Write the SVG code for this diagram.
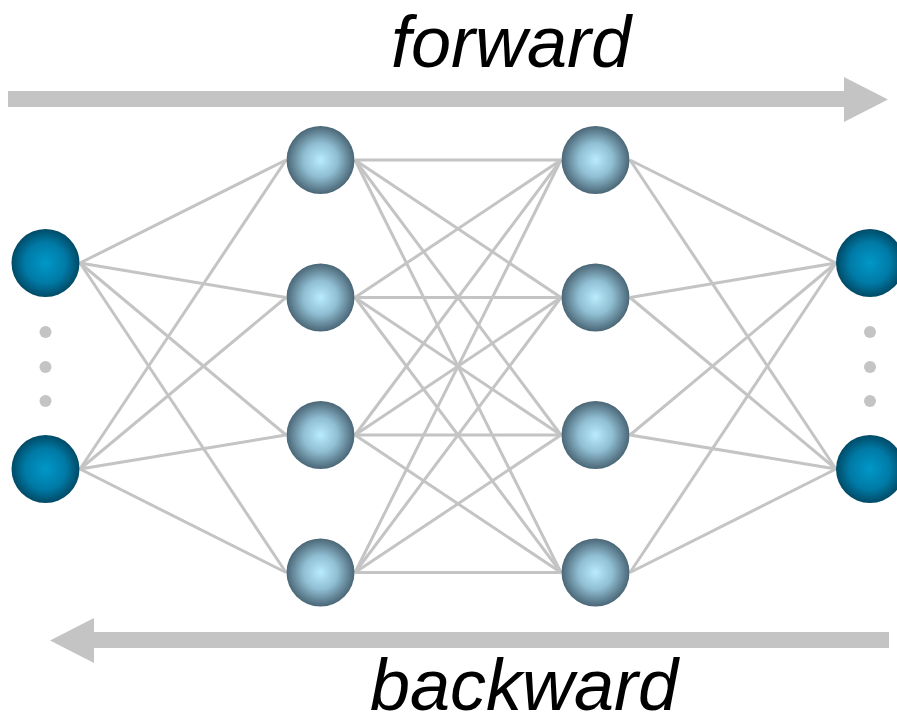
<svg xmlns="http://www.w3.org/2000/svg" width="897" height="721" viewBox="0 0 897 721">
<defs>
<radialGradient id="gIO" cx="50%" cy="50%" r="50%">
<stop offset="0" stop-color="#0098c8"/>
<stop offset="0.6" stop-color="#007aa6"/>
<stop offset="1" stop-color="#004a66"/>
</radialGradient>
<radialGradient id="gH" cx="50%" cy="50%" r="50%">
<stop offset="0" stop-color="#b8ecfc"/>
<stop offset="0.5" stop-color="#90bed2"/>
<stop offset="1" stop-color="#4a6676"/>
</radialGradient>
</defs>
<style>
.io{fill:url(#gIO)}
.h{fill:url(#gH)}
.e{stroke:#c4c4c4;stroke-width:3;fill:none}
.dot{fill:#c4c4c4}
.arr{fill:#c4c4c4}
.lbl{font-family:"Liberation Sans",Arial,sans-serif;font-style:italic;font-size:72px;fill:#000;text-anchor:middle}
</style>
<rect width="897" height="721" fill="#fff"/>
<g id="arrows">
<path class="arr" d="M8,91 H844 V77 L888,99.5 L844,122 V107 H8 Z"/>
<path class="arr" d="M889,632 H94 V618 L50,640.5 L94,663 V648 H889 Z"/>
</g>
<text class="lbl" x="511" y="67">forward</text>
<text class="lbl" x="524" y="710">backward</text>
<g id="connectors" class="e">
<line x1="80" y1="263" x2="286" y2="160"/>
<line x1="80" y1="263" x2="286" y2="297.5"/>
<line x1="80" y1="263" x2="286" y2="435"/>
<line x1="80" y1="263" x2="286" y2="572.5"/>
<line x1="80" y1="469" x2="286" y2="160"/>
<line x1="80" y1="469" x2="286" y2="297.5"/>
<line x1="80" y1="469" x2="286" y2="435"/>
<line x1="80" y1="469" x2="286" y2="572.5"/>
<line x1="355" y1="160" x2="561" y2="160"/>
<line x1="355" y1="160" x2="561" y2="297.5"/>
<line x1="355" y1="160" x2="561" y2="435"/>
<line x1="355" y1="160" x2="561" y2="572.5"/>
<line x1="355" y1="297.5" x2="561" y2="160"/>
<line x1="355" y1="297.5" x2="561" y2="297.5"/>
<line x1="355" y1="297.5" x2="561" y2="435"/>
<line x1="355" y1="297.5" x2="561" y2="572.5"/>
<line x1="355" y1="435" x2="561" y2="160"/>
<line x1="355" y1="435" x2="561" y2="297.5"/>
<line x1="355" y1="435" x2="561" y2="435"/>
<line x1="355" y1="435" x2="561" y2="572.5"/>
<line x1="355" y1="572.5" x2="561" y2="160"/>
<line x1="355" y1="572.5" x2="561" y2="297.5"/>
<line x1="355" y1="572.5" x2="561" y2="435"/>
<line x1="355" y1="572.5" x2="561" y2="572.5"/>
<line x1="630" y1="160" x2="836" y2="263"/>
<line x1="630" y1="297.5" x2="836" y2="263"/>
<line x1="630" y1="435" x2="836" y2="263"/>
<line x1="630" y1="572.5" x2="836" y2="263"/>
<line x1="630" y1="160" x2="836" y2="469"/>
<line x1="630" y1="297.5" x2="836" y2="469"/>
<line x1="630" y1="435" x2="836" y2="469"/>
<line x1="630" y1="572.5" x2="836" y2="469"/>
</g>
<g id="input-dots">
<circle class="dot" cx="45.5" cy="332" r="6"/>
<circle class="dot" cx="45.5" cy="367" r="6"/>
<circle class="dot" cx="45.5" cy="401" r="6"/>
</g>
<g id="output-dots">
<circle class="dot" cx="870" cy="332" r="6"/>
<circle class="dot" cx="870" cy="367" r="6"/>
<circle class="dot" cx="870" cy="401" r="6"/>
</g>
<g id="in1"><circle class="io" cx="45.5" cy="263" r="34"/></g>
<g id="in2"><circle class="io" cx="45.5" cy="469" r="34"/></g>
<g id="h1a"><circle class="h" cx="320.5" cy="160" r="34"/></g>
<g id="h1b"><circle class="h" cx="320.5" cy="297.5" r="34"/></g>
<g id="h1c"><circle class="h" cx="320.5" cy="435" r="34"/></g>
<g id="h1d"><circle class="h" cx="320.5" cy="572.5" r="34"/></g>
<g id="h2a"><circle class="h" cx="595.5" cy="160" r="34"/></g>
<g id="h2b"><circle class="h" cx="595.5" cy="297.5" r="34"/></g>
<g id="h2c"><circle class="h" cx="595.5" cy="435" r="34"/></g>
<g id="h2d"><circle class="h" cx="595.5" cy="572.5" r="34"/></g>
<g id="out1"><circle class="io" cx="870" cy="263" r="34"/></g>
<g id="out2"><circle class="io" cx="870" cy="469" r="34"/></g>
</svg>
